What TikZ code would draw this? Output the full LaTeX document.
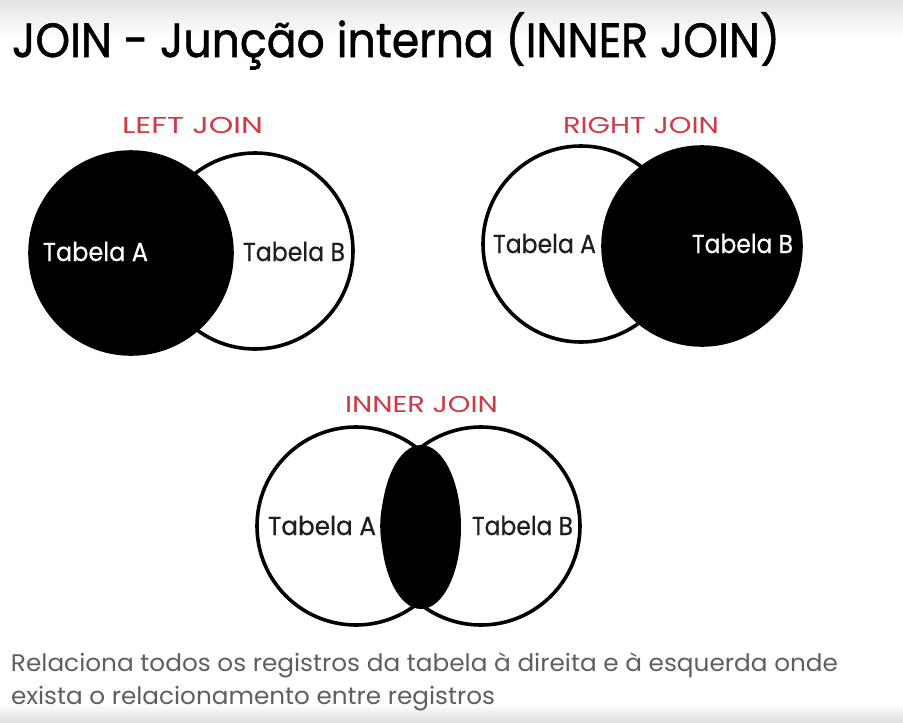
\documentclass[tikz,border=0pt]{standalone}
\usetikzlibrary{shapes.geometric}
\usepackage{fontspec}
\setmainfont{Poppins}
\newfontfamily\titlefont{Poppins}[FakeBold=1.2]
\newfontfamily\labelfont{Poppins}[FakeBold=0.6]
\usepackage{graphicx}
\definecolor{joinred}{RGB}{206,58,70}
\definecolor{bodygray}{RGB}{95,95,95}
\definecolor{labelink}{RGB}{30,30,30}
\newcommand\fittext[3]{\resizebox{#1}{\height}{\fontsize{#2}{#2}\selectfont #3}}
\begin{document}
\begin{tikzpicture}[x=1pt,y=-1pt,
  txt/.style={anchor=base west,inner sep=0pt,outer sep=0pt},
  setring/.style={line width=3.6pt,draw=black},
  whiteset/.style={setring,fill=white},
  blackset/.style={setring,fill=black},
  joinlabel/.style={txt,text=joinred},
  tablabel/.style={txt,text=labelink},
  tabwhite/.style={txt,text=white}]
\useasboundingbox (0,0) rectangle (903,723);
\fill[white] (0,0) rectangle (903,723);
\shade[top color={rgb,255:red,228;green,228;blue,228},bottom color=white] (0,0) rectangle (903,38);
\shade[top color=white,bottom color={rgb,255:red,222;green,222;blue,222}] (0,704) rectangle (903,723);

% title
\node[txt] (title) at (12,57) {\fittext{768pt}{48}{\titlefont JOIN - Junção interna (INNER JOIN)}};

% LEFT JOIN
\node[joinlabel] (lefttitle) at (122,133) {\fittext{141pt}{23}{LEFT JOIN}};
\node[whiteset,circle,minimum size=196pt,inner sep=0pt] (lB) at (255,251) {};
\node[blackset,circle,minimum size=202pt,inner sep=0pt] (lA) at (131,253) {};
\node[tabwhite] (lAt) at (43,261) {\fittext{105pt}{26}{\labelfont Tabela A}};
\node[tablabel] (lBt) at (243,261) {\fittext{102pt}{26}{\labelfont Tabela B}};

% RIGHT JOIN
\node[joinlabel] (righttitle) at (563,133) {\fittext{156pt}{23}{RIGHT JOIN}};
\node[whiteset,circle,minimum size=196pt,inner sep=0pt] (rA) at (581,244) {};
\node[blackset,circle,minimum size=198pt,inner sep=0pt] (rB) at (702,246) {};
\node[tablabel] (rAt) at (493,253) {\fittext{103pt}{26}{\labelfont Tabela A}};
\node[tabwhite] (rBt) at (692,253) {\fittext{101pt}{26}{\labelfont Tabela B}};

% INNER JOIN
\node[joinlabel] (innertitle) at (345,412) {\fittext{153pt}{23}{INNER JOIN}};
\node[setring,circle,minimum size=198pt,inner sep=0pt] (iA) at (356,526) {};
\node[setring,circle,minimum size=198pt,inner sep=0pt] (iB) at (481,526) {};
\node[fill=black,ellipse,minimum width=80pt,minimum height=164pt,inner sep=0pt] (lens) at (421,527) {};
\node[tablabel] (iAt) at (268,535) {\fittext{108pt}{26}{\labelfont Tabela A}};
\node[tablabel] (iBt) at (472,535) {\fittext{101pt}{26}{\labelfont Tabela B}};

% description
\node[txt,text=bodygray] (desc1) at (11,671) {\fittext{827pt}{24}{Relaciona todos os registros da tabela à direita e à esquerda onde}};
\node[txt,text=bodygray] (desc2) at (11,704) {\fittext{484pt}{24}{exista o relacionamento entre registros}};
\end{tikzpicture}
\end{document}
